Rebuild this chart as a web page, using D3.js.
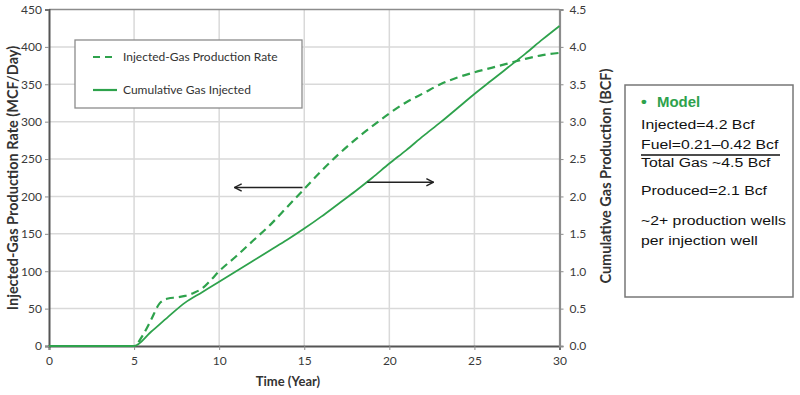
<!DOCTYPE html>
<html><head><meta charset="utf-8">
<script src="https://cdn.jsdelivr.net/npm/d3@7"></script>
<style>
html,body{margin:0;padding:0;background:#fff;}
svg{display:block;}
</style></head>
<body><svg id="c" width="800" height="395"></svg>
<script>
// ---- data ----
const rateYears  = [0,5,5.5,6,6.5,7,7.5,8,8.5,9,9.5,10,11,12,13,14,15,16,17,18,19,20,21,22,23,24,25,26,27,28,29,30];
const rateValues = [0,0,14,35,57,63.5,65,67,71,77,88,100,120,141,162,186,210,234,256,276,294,311,326,338,350,359,366,372,378,384,389,392];
const cumYears   = [0,5,6,7,8,9,10,11,12,13,14,15,16,17,18,19,20,21,22,23,24,25,26,27,28,29,30];
const cumValues  = [0,0,0.19,0.39,0.58,0.72,0.86,1.00,1.14,1.28,1.42,1.57,1.73,1.90,2.07,2.25,2.44,2.62,2.81,2.99,3.18,3.37,3.55,3.73,3.91,4.10,4.28];
const xTicks  = [0,5,10,15,20,25,30];
const yLTicks = [0,50,100,150,200,250,300,350,400,450];
const yRTicks = [0,0.5,1,1.5,2,2.5,3,3.5,4,4.5];
const legendLabels = ["Injected-Gas Production Rate","Cumulative Gas Injected"];
const titles = {x:"Time (Year)", yL:"Injected-Gas Production Rate (MCF/Day)", yR:"Cumulative Gas Production (BCF)"};
// arrows in data coords: [x0,x1,yLeftValue]
const arrows = [[14.9,10.9,212],[18.7,22.6,219]];
const boxTitle = "Model";
const boxLines = ["Injected=4.2 Bcf","Fuel=0.21\u20130.42 Bcf","Total Gas ~4.5 Bcf","Produced=2.1 Bcf","~2+ production wells","per injection well"];

const GREEN = "#2ea24c";
const svg = d3.select("#c");
const L=49, R=559.5, T=9.5, B=346;
const x  = d3.scaleLinear().domain([0,30]).range([L,R]);
const yL = d3.scaleLinear().domain([0,450]).range([B,T]);
const yR = d3.scaleLinear().domain([0,4.5]).range([B,T]);

// grid
const g = svg.append("g");
g.selectAll(".vg").data(xTicks.slice(1,-1)).join("line")
  .attr("x1",d=>x(d)).attr("x2",d=>x(d)).attr("y1",T).attr("y2",B)
  .attr("stroke","#d9d9d9").attr("stroke-width",1.5);
g.selectAll(".hg").data(yLTicks.slice(1,-1)).join("line")
  .attr("x1",L).attr("x2",R).attr("y1",d=>yL(d)).attr("y2",d=>yL(d))
  .attr("stroke","#d9d9d9").attr("stroke-width",1.5);
// top frame
svg.append("line").attr("x1",L).attr("x2",R).attr("y1",T).attr("y2",T).attr("stroke","#8c8c8c").attr("stroke-width",1.5);

const font = "Lato, 'Open Sans', sans-serif";
// axes
const ax = svg.append("g").attr("transform",`translate(0,${B})`)
  .call(d3.axisBottom(x).tickValues(xTicks).tickSize(4).tickPadding(6));
const ayl = svg.append("g").attr("transform",`translate(${L},0)`)
  .call(d3.axisLeft(yL).tickValues(yLTicks).tickSize(4).tickPadding(3));
const ayr = svg.append("g").attr("transform",`translate(${R},0)`)
  .call(d3.axisRight(yR).tickValues(yRTicks).tickFormat(d3.format(".1f")).tickSize(4).tickPadding(6));
[ax,ayl,ayr].forEach(a=>{
  a.selectAll("text").attr("font-family",font).attr("font-size",12).attr("fill","#3a3a3a");
  a.selectAll(".tick line").attr("stroke","#8c8c8c");
});
ax.select(".domain").attr("stroke","#555").attr("stroke-width",2);
ayl.select(".domain").attr("stroke","#555").attr("stroke-width",2);
ayr.select(".domain").attr("stroke","#8c8c8c").attr("stroke-width",2.2);

// series
const rateLine = d3.line().x((d,i)=>x(rateYears[i])).y(d=>yL(d)).curve(d3.curveMonotoneX);
const cumLine  = d3.line().x((d,i)=>x(cumYears[i])).y(d=>yR(d)).curve(d3.curveMonotoneX);
svg.append("path").attr("d",cumLine(cumValues)).attr("fill","none").attr("stroke",GREEN).attr("stroke-width",1.8);
svg.append("path").attr("d",rateLine(rateValues)).attr("fill","none").attr("stroke",GREEN).attr("stroke-width",2.2).attr("stroke-dasharray","8,5");

// arrows
const defs = svg.append("defs");
defs.append("marker").attr("id","ah").attr("viewBox","0 0 10 10").attr("refX",9).attr("refY",5)
  .attr("markerWidth",9).attr("markerHeight",9).attr("markerUnits","userSpaceOnUse").attr("orient","auto")
  .append("path").attr("d","M1,1 L9,5 L1,9").attr("fill","none").attr("stroke","#222").attr("stroke-width",1.6);
svg.selectAll(".arr").data(arrows).join("line")
  .attr("x1",d=>x(d[0])).attr("x2",d=>x(d[1])).attr("y1",d=>yL(d[2])).attr("y2",d=>yL(d[2]))
  .attr("stroke","#222").attr("stroke-width",1.6).attr("marker-end","url(#ah)");

// legend
const lg = svg.append("g");
lg.append("rect").attr("x",75).attr("y",40).attr("width",227).attr("height",68)
  .attr("fill","#fff").attr("stroke","#8c8c8c").attr("stroke-width",1.3);
legendLabels.forEach((t,i)=>{
  const yy = 57 + i*33;
  lg.append("line").attr("x1",93).attr("x2",117).attr("y1",yy).attr("y2",yy)
    .attr("stroke",GREEN).attr("stroke-width",2.2).attr("stroke-dasharray",i===0?"7,5":null);
  lg.append("text").attr("x",123).attr("y",yy).attr("dy","0.35em").text(t)
    .attr("font-family",font).attr("font-size",12).attr("fill","#333");
});

// titles
svg.append("text").attr("x",288).attr("y",386).attr("text-anchor","middle").text(titles.x)
  .attr("font-family",font).attr("font-weight","bold").attr("font-size",13).attr("fill","#333");
svg.append("text").attr("transform","translate(13,178) rotate(-90)").attr("text-anchor","middle").attr("dy","0.35em").text(titles.yL)
  .attr("font-family",font).attr("font-weight","bold").attr("font-size",14.5).attr("fill","#333");
svg.append("text").attr("transform","translate(606,176) rotate(-90)").attr("text-anchor","middle").attr("dy","0.35em").text(titles.yR)
  .attr("font-family",font).attr("font-weight","bold").attr("font-size",14.5).attr("fill","#333");

// side box
const bx = svg.append("g");
bx.append("rect").attr("x",625).attr("y",85).attr("width",168).attr("height",212)
  .attr("fill","#fff").attr("stroke","#777").attr("stroke-width",1.5);
const bf = "'Liberation Sans', Arial, sans-serif";
bx.append("text").attr("transform","translate(641,106.5) scale(1.1,1)").attr("font-family",bf).attr("font-size",15).attr("font-weight","bold").attr("fill",GREEN)
  .text("\u2022");
bx.append("text").attr("transform","translate(657,106.5) scale(1.07,1)").attr("font-family",bf).attr("font-size",14).attr("font-weight","bold").attr("fill",GREEN)
  .text(boxTitle);
const baselines = [128.5,149,166.5,195,224.5,245];
boxLines.forEach((t,i)=>{
  bx.append("text").attr("transform",`translate(641,${baselines[i]}) scale(1.17,1)`)
    .attr("font-family",bf).attr("font-size",13.5).attr("fill","#111").text(t);
});
bx.append("line").attr("x1",641).attr("x2",780).attr("y1",155).attr("y2",155).attr("stroke","#111").attr("stroke-width",1.5);
</script></body></html>
